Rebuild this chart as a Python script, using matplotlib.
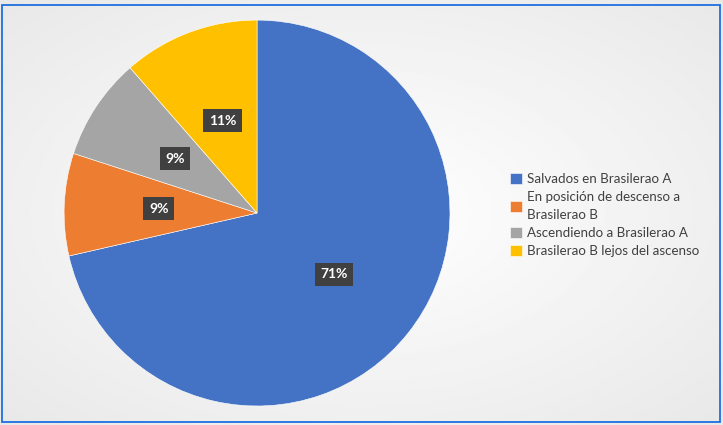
import numpy as np
import matplotlib
matplotlib.use("Agg")
import matplotlib.pyplot as plt
from matplotlib.patches import Rectangle

# Datos (aprox. 35 equipos)
categorias = ["Salvados en Brasilerao A",
              "En posición de descenso a\nBrasilerao B",
              "Ascendiendo a Brasilerao A",
              "Brasilerao B lejos del ascenso"]
valores = [25, 3, 3, 4]
colores = ["#4472C4", "#ED7D31", "#A5A5A5", "#FFC000"]

plt.rcParams['font.family'] = ['Lato', 'DejaVu Sans']

fig = plt.figure(figsize=(7.23, 4.25), dpi=100)

# fondo con degradado suave
bg = fig.add_axes([0, 0, 1, 1], zorder=-10)
yy, xx = np.mgrid[-1:1:200j, -1:1:300j]
grad = 1 - 0.09 * (np.sqrt(xx**2 + yy**2) / np.sqrt(2))
bg.imshow(grad, cmap="gray", vmin=0, vmax=1, aspect="auto",
          extent=[0, 1, 0, 1])
bg.set_xlim(0, 1)
bg.set_ylim(0, 1)
bg.axis("off")
bg.add_patch(Rectangle((1.5 / 723, 3.5 / 425), 718 / 723, 417 / 425,
                       fill=False, edgecolor="#1f6fe0", linewidth=1.3,
                       transform=fig.transFigure))

ax = fig.add_axes([0.0885, 0.0447, 0.534, 0.908])
wedges, texts, autotexts = ax.pie(
    valores, colors=colores, startangle=90, counterclock=False,
    autopct="%1.0f%%", pctdistance=0.51,
    wedgeprops=dict(edgecolor="white", linewidth=0.4),
    textprops=dict(color="white", fontsize=10, fontweight="bold"))
for t in autotexts:
    t.set_bbox(dict(facecolor="#404040", edgecolor="none", pad=4))
ax.set_xlim(-1, 1)
ax.set_ylim(-1, 1)

leg = fig.legend(wedges, categorias, loc="upper left",
                 bbox_to_anchor=(498 / 723, (425 - 161) / 425),
                 frameon=False, fontsize=9.6, handlelength=0.9,
                 handleheight=0.9, handletextpad=0.4, labelspacing=0.45,
                 labelcolor="#404040")
for t in leg.get_texts():
    t.set_linespacing(1.6)

fig.savefig("out.png", dpi=100)
